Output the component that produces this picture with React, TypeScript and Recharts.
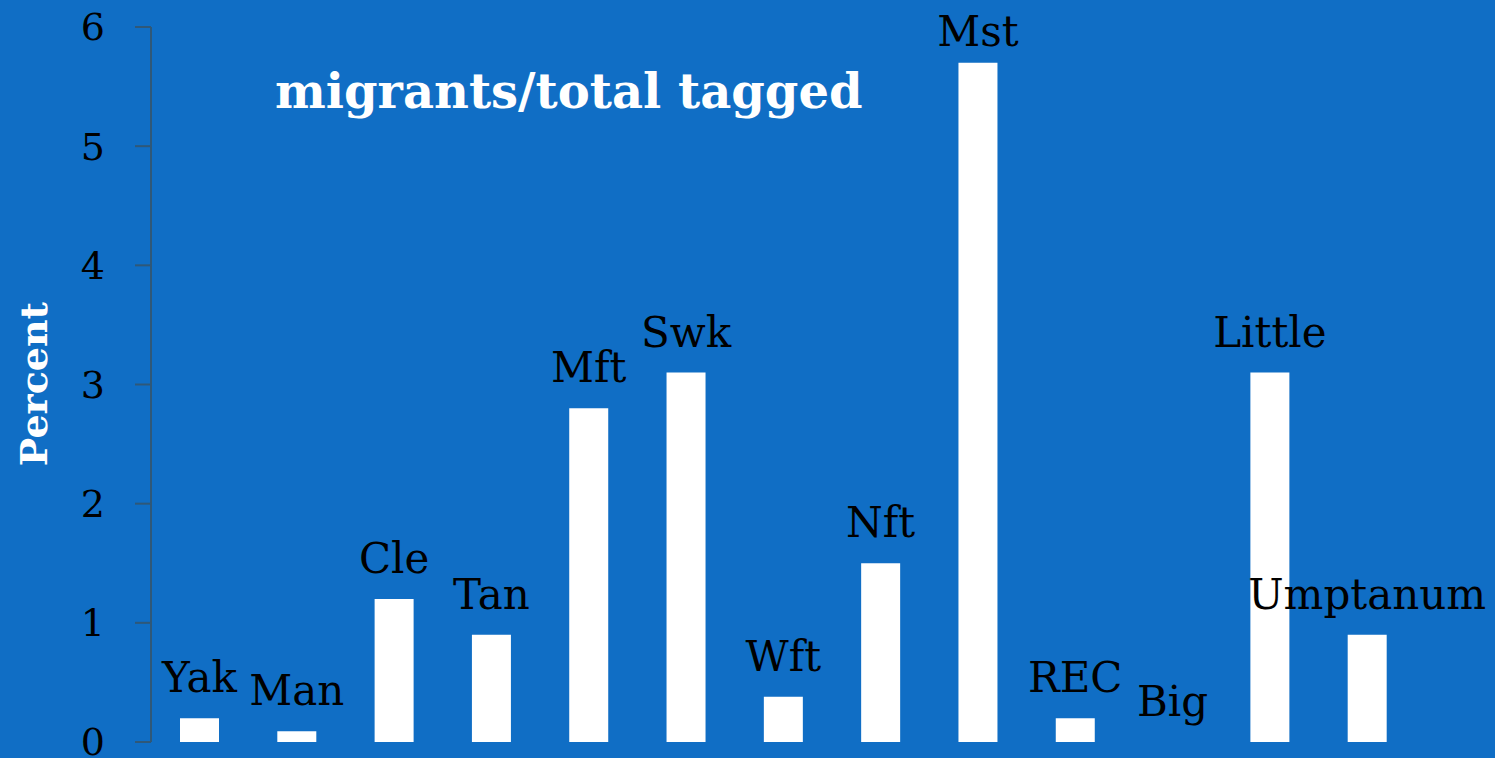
import React from 'react';
import { BarChart, Bar, XAxis, YAxis, LabelList } from 'recharts';

const sites = ['Yak', 'Man', 'Cle', 'Tan', 'Mft', 'Swk', 'Wft', 'Nft', 'Mst', 'REC', 'Big', 'Little', 'Umptanum'];
const percent = [0.2, 0.09, 1.2, 0.9, 2.8, 3.1, 0.38, 1.5, 5.7, 0.2, 0, 3.1, 0.9];
const yTicks = [0, 1, 2, 3, 4, 5, 6];

const data = sites.map((name, i) => ({ name, value: percent[i] }));

const BG = '#106EC5';
const AXIS = '#2F5878';
const SERIF = '"DejaVu Serif", serif';

const SiteLabel = (props: any) => {
  const { x, y, width, value } = props;
  const ty = Math.max(Number(y) - 26, 46);
  return (
    <text
      x={Number(x) + Number(width) / 2}
      y={ty}
      textAnchor="middle"
      fill="#000"
      fontSize={42}
      fontFamily={SERIF}
    >
      {value}
    </text>
  );
};

export default function App() {
  return (
    <div style={{ position: 'absolute', left: 0, top: 0, width: 1495, height: 758, background: BG, overflow: 'hidden' }}>
      <BarChart
        width={1495}
        height={758}
        data={data}
        margin={{ top: 27, right: 79, left: 0, bottom: 16 }}
      >
        <XAxis dataKey="name" hide />
        <YAxis
          width={151}
          domain={[0, 6]}
          ticks={yTicks}
          interval={0}
          tickSize={16}
          tickMargin={30}
          axisLine={{ stroke: AXIS, strokeWidth: 2 }}
          tickLine={{ stroke: AXIS, strokeWidth: 2 }}
          tick={{ fill: '#000', fontSize: 38, fontFamily: SERIF }}
        />
        <Bar dataKey="value" fill="#fff" barSize={39} minPointSize={0.01} isAnimationActive={false}>
          <LabelList dataKey="name" content={SiteLabel} />
        </Bar>
        <text x={275} y={108} fill="#fff" fontSize={48} fontWeight="bold" fontFamily={SERIF}>
          migrants/total tagged
        </text>
        <text
          x={47}
          y={384}
          transform="rotate(-90 47 384)"
          textAnchor="middle"
          fill="#fff"
          fontSize={38}
          fontWeight="bold"
          fontFamily={SERIF}
        >
          Percent
        </text>
      </BarChart>
    </div>
  );
}
